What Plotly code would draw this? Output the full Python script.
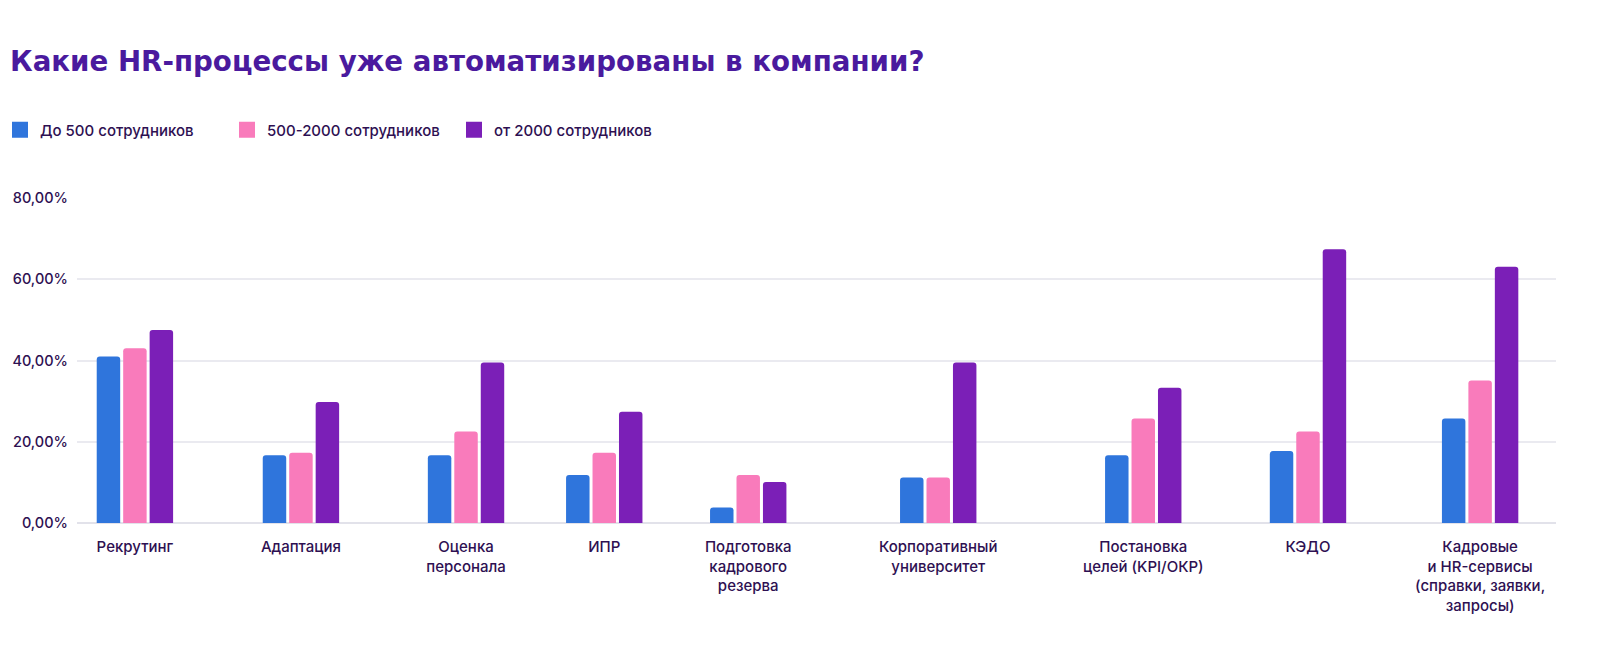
import plotly.graph_objects as go

# ---------------- data ----------------
categories = [
    "Рекрутинг",
    "Адаптация",
    "Оценка<br>персонала",
    "ИПР",
    "Подготовка<br>кадрового<br>резерва",
    "Корпоративный<br>университет",
    "Постановка<br>целей (KPI/ОКР)",
    "КЭДО",
    "Кадровые<br>и HR-сервисы<br>(справки, заявки,<br>запросы)",
]
series_names = ["До 500 сотрудников", "500-2000 сотрудников", "от 2000 сотрудников"]
small_co = [41.0, 16.7, 16.7, 11.8, 3.8, 11.2, 16.7, 17.7, 25.7]
mid_co = [43.0, 17.3, 22.5, 17.3, 11.8, 11.2, 25.7, 22.5, 35.1]
large_co = [47.5, 29.8, 39.5, 27.4, 10.1, 39.5, 33.3, 67.4, 63.1]
y_ticks = [0, 20, 40, 60, 80]
y_tick_labels = [f"{v:.2f}".replace(".", ",") + "%" for v in y_ticks]

# ---------------- style ----------------
colors = ["#2F75DC", "#F97BBB", "#7B1FB7"]
TITLE_COLOR = "#4A1A9E"
TEXT_COLOR = "#2E1052"
GRID_COLOR = "#EAEAF0"
FONT = "Inter, 'Open Sans', sans-serif"
TITLE_FONT = "'DejaVu Sans', Inter, sans-serif"

# the page body has an 8px margin, so the figure is sized to fit the window
W, H = 1592, 646
M_L, M_R, M_T, M_B = 69, 44, 190, 131

# Categories are laid out like a flex row: each slot is as wide as its label
# plus a constant gap, so groups with long labels get more room.
def char_w(ch):
    if ch in " ,.()/-" or ch == "I":
        return 4.5
    if ch.isupper():
        return 11.5
    return 9.6

def label_width(label):
    return max(sum(char_w(c) for c in line) for line in label.split("<br>"))

SLOT_GAP = 78
widths = [label_width(c) for c in categories]
positions = [0.0]
for i in range(1, len(categories)):
    positions.append(positions[-1] + (widths[i - 1] + widths[i]) / 2 + SLOT_GAP)

BAR_W = 23.5
BAR_STEP = 26.5
group_w = BAR_W * 3 + (BAR_STEP - BAR_W) * 2

fig = go.Figure()
for i, (name, vals) in enumerate(zip(series_names, [small_co, mid_co, large_co])):
    fig.add_trace(go.Bar(
        x=positions,
        y=vals,
        name=name,
        legendgroup=name,
        showlegend=False,
        width=BAR_W,
        offset=-group_w / 2 + i * BAR_STEP,
        marker=dict(color=colors[i], line=dict(width=0)),
        hovertemplate="%{y:.1f}%<extra>" + name + "</extra>",
    ))
# legend entries with larger square swatches
for i, name in enumerate(series_names):
    fig.add_trace(go.Scatter(
        x=[None], y=[None], mode="markers", name=name, legendgroup=name,
        marker=dict(symbol="square", size=16, color=colors[i], line=dict(width=0)),
        hoverinfo="skip",
    ))

plot_w = W - M_L - M_R

fig.update_layout(
    width=W,
    height=H,
    barmode="overlay",
    barcornerradius=3,
    paper_bgcolor="white",
    plot_bgcolor="white",
    margin=dict(l=M_L, r=M_R, t=M_T, b=M_B, autoexpand=False),
    font=dict(family=FONT, color=TEXT_COLOR, size=14),
    title=dict(
        text="Какие HR-процессы уже автоматизированы в компании?",
        font=dict(family=TITLE_FONT, size=27.7, color=TITLE_COLOR, weight=700),
        xref="container", x=0, xanchor="left", pad=dict(l=2),
        yref="container", y=1 - 53.5 / H, yanchor="middle",
        automargin=False,
    ),
    legend=dict(
        orientation="h",
        xref="paper", yref="container",
        x=-(M_L + 8) / plot_w, xanchor="left",
        y=1 - 122 / H, yanchor="middle",
        font=dict(family=FONT, size=15, color=TEXT_COLOR, weight=500),
        entrywidth=182,
        itemsizing="trace",
        itemclick=False,
        itemdoubleclick=False,
    ),
    showlegend=True,
    xaxis=dict(
        range=[positions[0] - 58, positions[-1] + 76],
        tickvals=positions,
        ticktext=categories,
        showgrid=False,
        zeroline=False,
        showline=False,
        ticks="",
        tickfont=dict(family=FONT, size=15, color=TEXT_COLOR, weight=500),
        ticklabelstandoff=13,
        automargin=False,
        fixedrange=True,
    ),
    yaxis=dict(
        range=[0, 80],
        tickvals=y_ticks,
        ticktext=y_tick_labels,
        showgrid=True,
        gridcolor=GRID_COLOR,
        gridwidth=1.5,
        zeroline=True,
        zerolinecolor="#E2E2EA",
        zerolinewidth=2,
        showline=False,
        ticks="",
        tickfont=dict(family=FONT, size=14.5, color=TEXT_COLOR, weight=500),
        ticklabelstandoff=8,
        automargin=False,
        fixedrange=True,
    ),
)

fig.write_html("out.html")
